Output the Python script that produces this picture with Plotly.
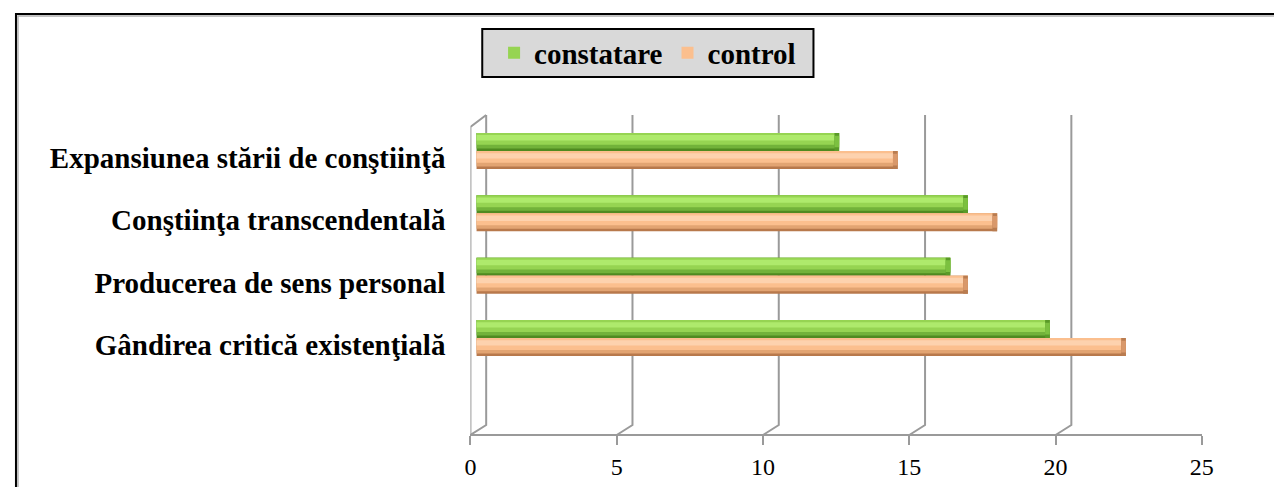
import plotly.graph_objects as go

# ---- data ----
categories = [
    "Expansiunea stării de conştiinţă",
    "Conştiinţa transcendentală",
    "Producerea de sens personal",
    "Gândirea critică existenţială",
]
constatare = [12.4, 16.8, 16.2, 19.6]
control = [14.4, 17.8, 16.8, 22.2]
series_names = ["constatare", "control"]
x_ticks = [0, 5, 10, 15, 20, 25]

# ---- geometry helpers (page pixels -> paper); page body has an 8px margin,
# figure sized so that the page does not overflow the window ----
OFF = 8
W, H = 1282 - 2 * OFF, 495 - 2 * OFF
def fx(px):
    return (px - OFF) / W
def fy(py):
    return 1 - (py - OFF) / H

FONT = "Liberation Serif"
GRID = "#9a9a9a"

# shading layers for cylinder-like bars: (top frac, bottom frac, color index)
green_cols = ["#4f8a20", "#72b23a", "#96d452", "#aeea6c"]
orange_cols = ["#b8794c", "#e2a472", "#fbbf8e", "#fdd2ae"]
cap_cols = {"constatare": ("#5a9a28", "#7cc040"), "control": ("#b97c50", "#d9986a")}
layers = [(0.0, 1.0, 0), (0.0, 0.86, 1), (0.0, 0.66, 2), (0.12, 0.42, 3)]
t = 0.289      # bar thickness in category units
cap = 0.16     # length of the darker end cap in value units (visual style)

fig = go.Figure()
for s_idx, (name, vals, cols, base_off) in enumerate([
    (series_names[0], constatare, green_cols, -t),
    (series_names[1], control, orange_cols, 0.0),
]):
    for a, b, ci in layers:
        fig.add_trace(go.Bar(
            x=vals, y=categories, orientation="h",
            name=name, legendgroup=name,
            showlegend=(ci == 2), legendrank=s_idx + 1,
            offset=base_off + a * t, width=(b - a) * t,
            marker=dict(color=cols[ci], line=dict(width=0)),
            hoverinfo="x+name",
            xaxis="x", yaxis="y",
        ))
    # darker end cap of the cylinder
    edge, face = cap_cols[name]
    for a, b, col in [(0.0, 1.0, edge), (0.15, 0.8, face)]:
        fig.add_trace(go.Bar(
            x=[cap] * len(vals), base=[v - cap for v in vals], y=categories,
            orientation="h", name=name, legendgroup=name, showlegend=False,
            offset=base_off + a * t, width=(b - a) * t,
            marker=dict(color=col, line=dict(width=0)), hoverinfo="skip",
            xaxis="x", yaxis="y",
        ))

# dummy invisible trace to establish front-axis / label-axis subplot
fig.add_trace(go.Scatter(
    x=control, y=categories, xaxis="x2", yaxis="y2", mode="markers",
    marker=dict(opacity=0), showlegend=False, hoverinfo="skip",
))

# ---- 3D-like walls and gridlines ----
dx = 16 / (742 / 25.0)  # depth offset in x2 units
y_front, y_back_floor, y_top, y_front_top = fy(435), fy(425), fy(115), fy(127)
shapes = []
line = dict(color=GRID, width=2)
for v in x_ticks:
    shapes.append(dict(type="path", xref="x2", yref="paper", layer="below",
                       path=f"M {v},{y_front} L {v+dx},{y_back_floor} L {v+dx},{y_top}",
                       line=line))
# left wall front edge and top diagonal
shapes.append(dict(type="path", xref="x2", yref="paper", layer="below",
                   path=f"M 0,{y_front} L 0,{y_front_top} L {dx},{y_top}",
                   line=line))
# outer frame (top and left edges visible) with a faint shadow
shapes.append(dict(type="path", xref="paper", yref="paper", layer="below",
                   path=f"M {fx(12)},{fy(530)} L {fx(12)},{fy(16)} L {fx(1310)},{fy(16)}",
                   line=dict(color="#b0b0b0", width=1.5)))
shapes.append(dict(type="path", xref="paper", yref="paper", layer="below",
                   path=f"M {fx(10)},{fy(530)} L {fx(10)},{fy(14)} L {fx(1310)},{fy(14)}",
                   line=dict(color="black", width=2)))
# legend box
shapes.append(dict(type="rect", xref="paper", yref="paper", layer="below",
                   x0=fx(483), x1=fx(819), y0=fy(77), y1=fy(29),
                   fillcolor="#d9d9d9", line=dict(color="black", width=2)))

fig.update_layout(
    width=W, height=H,
    margin=dict(l=0, r=0, t=0, b=0),
    paper_bgcolor="white", plot_bgcolor="rgba(0,0,0,0)",
    barmode="overlay",
    showlegend=True,
    legend=dict(
        orientation="h", x=fx(495), y=fy(53), xanchor="left", yanchor="middle",
        bgcolor="rgba(0,0,0,0)", borderwidth=0,
        font=dict(family=FONT, size=29, color="black", weight="bold"),
        traceorder="normal",
    ),
    xaxis=dict(domain=[fx(477), fx(1219)], range=[0, 25], visible=False),
    yaxis=dict(domain=[fy(369.2), fy(119.8)], range=[3.5, -0.5],
               type="category", categoryorder="array", categoryarray=categories,
               visible=False),
    xaxis2=dict(domain=[fx(471), fx(1213)], range=[0, 25], anchor="free",
                position=fy(435), tickvals=x_ticks, ticks="outside", ticklen=9,
                tickwidth=2, tickcolor=GRID, showline=True, linewidth=2,
                linecolor=GRID, showgrid=False, zeroline=False,
                ticklabelstandoff=1,
                tickfont=dict(family=FONT, size=24, color="black")),
    yaxis2=dict(domain=[fy(376.2), fy(126.8)], range=[3.5, -0.5], anchor="x2",
                type="category", categoryorder="array", categoryarray=categories,
                showgrid=False, showline=False, ticks="", zeroline=False,
                ticklabelstandoff=24,
                tickfont=dict(family=FONT, size=29, color="black", weight="bold")),
    shapes=shapes,
)

fig.write_html("out.html")
